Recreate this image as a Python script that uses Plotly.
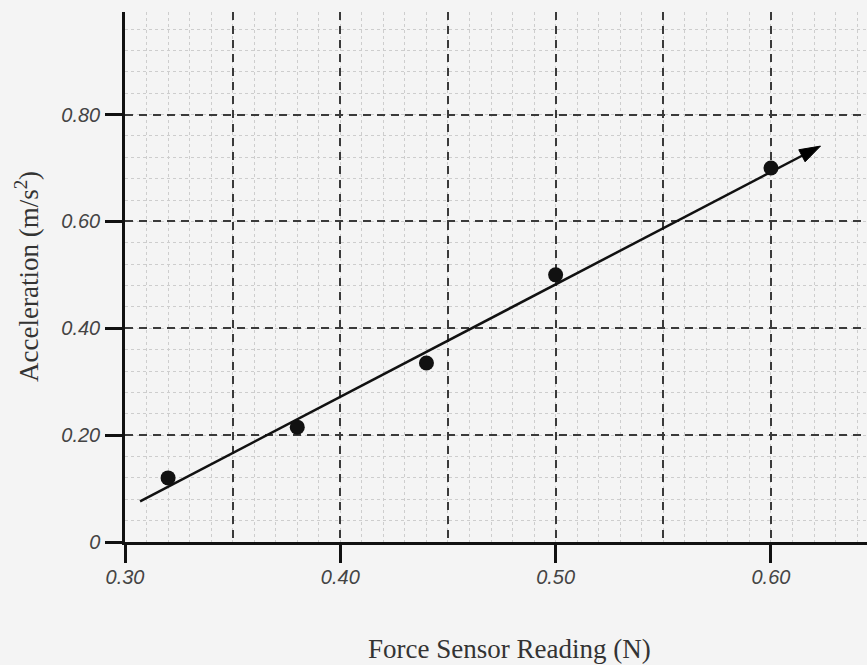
import plotly.graph_objects as go

# Data
force = [0.32, 0.38, 0.44, 0.50, 0.60]
accel = [0.12, 0.215, 0.335, 0.50, 0.70]
fit_x = [0.307, 0.623]
fit_y = [0.076, 0.741]

x_tick_vals = [0.30, 0.40, 0.50, 0.60]
x_tick_text = ["0.30", "0.40", "0.50", "0.60"]
x_grid_vals = [0.35, 0.40, 0.45, 0.50, 0.55, 0.60]
y_tick_vals = [0, 0.2, 0.4, 0.6, 0.8]
y_tick_text = ["0", "0.20", "0.40", "0.60", "0.80"]
x_title = "Force Sensor Reading (N)"
y_title = "Acceleration (m/s<sup>2</sup>)"

X_RANGE = [0.30, 0.6446]
Y_RANGE = [0, 0.992]

INK = "#111111"
GRID = "#3a3a3a"
MINOR = "#cdcdcd"
BG = "#f4f4f4"

tick_font = dict(family="Liberation Sans", size=20, color="#444444", style="italic")
title_font = dict(family="Liberation Serif", size=27, color="#333333")

fig = go.Figure()

# invisible helper trace for the dashed-grid axis
fig.add_trace(go.Scatter(x=[None], y=[None], xaxis="x2", yaxis="y",
                         showlegend=False, hoverinfo="skip"))

# best-fit line with arrowhead
fig.add_trace(go.Scatter(
    x=fit_x, y=fit_y, mode="lines+markers",
    line=dict(color=INK, width=2.5),
    marker=dict(symbol="arrow", angleref="previous", size=[0, 22], color="#000000",
                opacity=1, line=dict(color="#000000", width=1)),
    showlegend=False, hoverinfo="skip"))

# data points
fig.add_trace(go.Scatter(
    x=force, y=accel, mode="markers",
    marker=dict(symbol="circle", size=15, color="#111111"),
    showlegend=False))

fig.update_layout(
    width=867, height=665,
    margin=dict(l=125, r=0, t=12, b=123),
    paper_bgcolor=BG, plot_bgcolor=BG,
    showlegend=False,
    xaxis=dict(
        range=X_RANGE, tickmode="array", tickvals=x_tick_vals, ticktext=x_tick_text,
        ticks="outside", ticklen=18, tickwidth=3, tickcolor=INK,
        showline=True, linewidth=2.5, linecolor=INK,
        showgrid=False, zeroline=False,
        minor=dict(dtick=0.01, tick0=0.30, showgrid=True, gridcolor=MINOR,
                   griddash="dot", gridwidth=1),
        ticklabelstandoff=-3, tickfont=tick_font,
    ),
    xaxis2=dict(
        overlaying="x", range=X_RANGE, tickmode="array", tickvals=x_grid_vals,
        showticklabels=False, ticks="", showline=False, zeroline=False,
        showgrid=True, gridcolor=GRID, gridwidth=2.2, griddash="8px,6px",
    ),
    yaxis=dict(
        range=Y_RANGE, tickmode="array", tickvals=y_tick_vals, ticktext=y_tick_text,
        ticks="outside", ticklen=17, tickwidth=3, tickcolor=INK,
        showline=True, linewidth=2.5, linecolor=INK,
        showgrid=True, gridcolor=GRID, gridwidth=2.2, griddash="8px,6px",
        zeroline=False,
        minor=dict(dtick=0.04, tick0=0, showgrid=True, gridcolor=MINOR,
                   griddash="dot", gridwidth=1),
        ticklabelstandoff=1, tickfont=tick_font,
    ),
    annotations=[
        dict(text=x_title, xref="paper", yref="paper", x=0.5, y=0,
             xshift=13, yshift=-107, showarrow=False, font=title_font,
             xanchor="center", yanchor="middle"),
        dict(text=y_title, xref="paper", yref="paper", x=0, y=0.5,
             xshift=-98, showarrow=False, font=title_font, textangle=-90,
             xanchor="center", yanchor="middle"),
    ],
)

fig.write_html("out.html", config={"displayModeBar": False},
               post_script="document.body.style.margin='0';document.body.style.overflow='hidden';")
